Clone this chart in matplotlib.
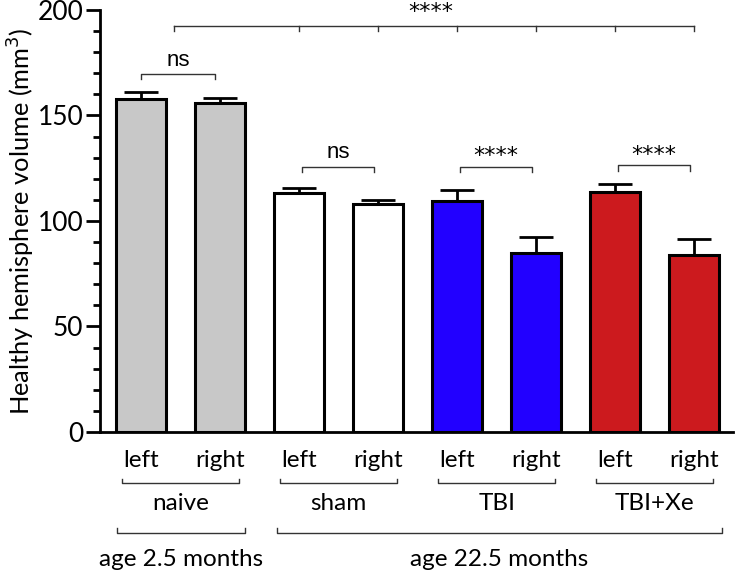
import matplotlib.pyplot as plt
import numpy as np

# data
sides = ["left", "right"] * 4
groups = ["naive", "sham", "TBI", "TBI+Xe"]
means = [157.8, 155.9, 113.3, 108.0, 109.5, 84.8, 113.7, 84.0]
errs = [3.3, 2.4, 2.3, 2.0, 5.0, 7.4, 3.8, 7.6]
colors = ["#c8c8c8", "#c8c8c8", "white", "white",
          "#2200ff", "#2200ff", "#cc1a1e", "#cc1a1e"]
ages = ["age 2.5 months", "age 22.5 months"]

plt.rcParams['font.family'] = ['Lato', 'DejaVu Sans']

fig = plt.figure(figsize=(7.37, 5.74), dpi=100)
ax = fig.add_axes([0.1357, 0.2474, 0.8589, 0.7352])

x = np.arange(len(means))
ax.bar(x, means, width=0.63, color=colors, edgecolor="black", linewidth=2.2, zorder=2)
ax.errorbar(x, means, yerr=[np.zeros(len(errs)), errs], fmt="none", ecolor="black",
            elinewidth=2, capsize=12, capthick=2, zorder=1)

ax.set_xlim(-0.52, 7.49)
ax.set_ylim(0, 200)
ax.set_yticks([0, 50, 100, 150, 200])
ax.set_yticks(np.arange(0, 201, 10), minor=True)
ax.tick_params(axis="y", which="major", length=10, width=2, labelsize=19, pad=2)
ax.tick_params(axis="y", which="minor", length=5, width=2)
ax.set_xticks(x)
ax.set_xticklabels(sides, fontsize=17.5)
ax.tick_params(axis="x", length=0, pad=13)
for s in ["top", "right"]:
    ax.spines[s].set_visible(False)
ax.spines["left"].set_linewidth(2)
ax.spines["bottom"].set_linewidth(2)
ax.set_ylabel("Healthy hemisphere volume (mm$^3$)", fontsize=18.3, labelpad=0)

# significance brackets
bc = "#333333"
ns_font = dict(family="Liberation Sans", fontsize=16, ha="center", va="center")
st_font = dict(family="DejaVu Sans", fontsize=16, ha="center", va="center")

def bracket(x0, x1, y, h, label, ty, font):
    ax.plot([x0, x0, x1, x1], [y - h, y, y, y - h], color=bc, lw=1, clip_on=False)
    ax.text((x0 + x1) / 2, ty, label, **font)

bracket(0.0, 0.93, 169.7, 2.6, "ns", 176.0, ns_font)
bracket(2.03, 2.95, 125.6, 2.6, "ns", 132.5, ns_font)
bracket(4.03, 4.95, 125.6, 2.6, "****", 131.0, st_font)
bracket(6.03, 6.95, 126.5, 2.6, "****", 131.5, st_font)

# top bracket with ticks
top_ticks = [0.42, 2, 3, 4, 5, 6, 7]
ax.plot([top_ticks[0], top_ticks[-1]], [192.4, 192.4], color=bc, lw=1, clip_on=False)
for t in top_ticks:
    ax.plot([t, t], [192.4, 190.0], color=bc, lw=1, clip_on=False)
ax.text(3.67, 199.0, "****", **st_font)

# group labels below axis
trans = ax.get_xaxis_transform()
ypx = lambda p: (432 - p) / 422.0
for i, g in enumerate(groups):
    x0, x1 = 2 * i - 0.24, 2 * i + 1.24
    ax.plot([x0, x0, x1, x1], [ypx(479), ypx(483), ypx(483), ypx(479)],
            color=bc, lw=1, transform=trans, clip_on=False)
    ax.text((x0 + x1) / 2, ypx(504), g, fontsize=17.5, ha="center", va="center",
            transform=trans)

age_spans = [(-0.30, 1.32), (1.72, 7.35)]
for (x0, x1), a in zip(age_spans, ages):
    ax.plot([x0, x0, x1, x1], [ypx(528), ypx(533), ypx(533), ypx(528)],
            color=bc, lw=1, transform=trans, clip_on=False)
    ax.text((x0 + x1) / 2, ypx(560), a, fontsize=17.5, ha="center", va="center",
            transform=trans)

fig.savefig("out.png", dpi=100)
